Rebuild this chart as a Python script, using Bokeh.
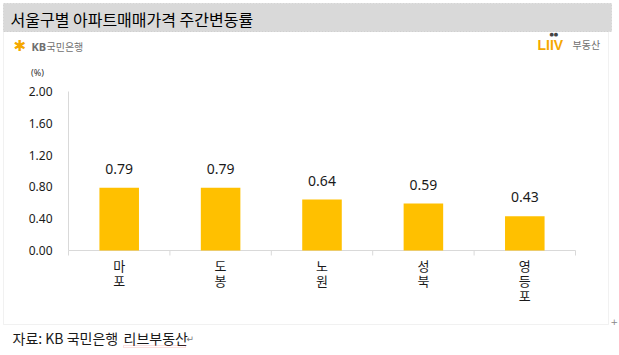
import math
from bokeh.plotting import figure
from bokeh.models import ColumnDataSource, Label, BoxAnnotation, Range1d
from bokeh.embed import file_html
from bokeh.resources import INLINE
from bokeh.core.properties import value

# ---------------- data ----------------
chart_title = "서울구별 아파트매매가격 주간변동률"
districts = ["마포", "도봉", "노원", "성북", "영등포"]
changes = [0.79, 0.79, 0.64, 0.59, 0.43]
y_ticks = [0.0, 0.4, 0.8, 1.2, 1.6, 2.0]
y_max = 2.0
unit_label = "(%)"
source_main = "자료: KB 국민은행"
source_second = "리브부동산"
kb_brand = "국민은행"
liiv_brand = "부동산"

# ---------------- layout (canvas px) ----------------
W, H = 619, 355
FL, FR, FT, FB = 68, 575, 91, 250   # plot area edges
KR = "Noto Sans CJK KR"
NUM = "Noto Sans"
AX = "#D9D9D9"

n = len(districts)
x_lo, x_hi = 0.5, n + 0.5
kx = (FR - FL) / (x_hi - x_lo)
ky = (FB - FT) / y_max
x_range = Range1d(x_lo - FL / kx, x_hi + (W - FR) / kx)
y_range = Range1d(-(H - FB) / ky, y_max + FT / ky)

pos = list(range(1, n + 1))
bars = ColumnDataSource(dict(x=pos, top=changes,
                             lab=[f"{v:.2f}" for v in changes],
                             cat=["\n".join(list(d)) for d in districts],
                             zero=[0] * n))
yt = ColumnDataSource(dict(y=y_ticks, x=[x_lo] * len(y_ticks),
                           lab=[f"{v:.2f}" for v in y_ticks]))
edges = [x_lo + i for i in range(n + 1)]

p = figure(width=W, height=H, output_backend="svg", toolbar_location=None,
           x_range=x_range, y_range=y_range,
           x_axis_location=None, y_axis_location=None,
           min_border=0)
p.outline_line_color = None
p.grid.visible = False
p.background_fill_color = "white"
p.border_fill_color = "white"

# title bar and outer frame
p.add_layout(BoxAnnotation(left=3, right=608, top=31, bottom=324,
                           left_units="canvas", right_units="canvas",
                           top_units="canvas", bottom_units="canvas",
                           fill_alpha=0, line_color="#D0D0D0", line_width=1,
                           level="underlay"))
p.add_layout(BoxAnnotation(left=3, right=611, top=3, bottom=31,
                           left_units="canvas", right_units="canvas",
                           top_units="canvas", bottom_units="canvas",
                           fill_color="#D9D9D9", fill_alpha=1,
                           line_color="#A0A0A0", line_dash="2 1", line_width=1,
                           level="underlay"))

# axes drawn through the data scales
p.segment(x0=[x_lo], y0=[0], x1=[x_hi], y1=[0], line_color=AX, line_width=1)
p.segment(x0=[x_lo], y0=[0], x1=[x_lo], y1=[y_max], line_color=AX, line_width=1)
p.ray(x=edges, y=[0] * len(edges), length=5, length_units="screen",
      angle=-math.pi / 2, line_color=AX, line_width=1)
p.text(x="x", y="y", text="lab", source=yt, x_offset=-16,
       text_align="right", text_baseline="middle",
       text_font=value(NUM), text_font_size="12px", text_color="#1a1a1a")
p.text(x="x", y="zero", text="cat", source=bars, y_offset=5,
       text_align="center", text_baseline="top", text_line_height=0.8,
       text_font=value(KR), text_font_size="13px", text_color="#1a1a1a")

# bars and value labels
p.vbar(x="x", top="top", width=0.39, bottom=0, source=bars,
       fill_color="#FFC000", line_color=None)
p.text(x="x", y="top", text="lab", source=bars, y_offset=-19,
       text_align="center", text_baseline="alphabetic",
       text_font=value(NUM), text_font_size="14px", text_color="#1a1a1a")


def lab(cx, cy, text, size, color="#1a1a1a", font=KR, align="left",
        style="normal"):
    p.add_layout(Label(x=cx, y=cy, x_units="canvas", y_units="canvas",
                       text=text, text_font=font, text_font_size=size,
                       text_color=color, text_align=align,
                       text_baseline="middle", text_font_style=style))


lab(10, 18, chart_title, "16px", "#000000")
lab(37, 72, unit_label, "9px", "#333333", NUM, "center")
lab(13, 45, "✱", "15px", "#F5A800", "DejaVu Sans")
lab(31, 46, "KB", "11px", "#6f6f6f", NUM, "left", "bold")
lab(46, 46, kb_brand, "10px", "#6f6f6f")
lab(537, 44, "LIIV", "14px", "#F5A800", "Liberation Sans", "left", "bold")
lab(549, 33, "●●", "5px", "#444444", "DejaVu Sans")
lab(572, 44, liiv_brand, "10px", "#6f6f6f")
lab(12, 337, source_main, "14px", "#1a1a1a")
lab(123, 337, source_second, "14px", "#1a1a1a")
lab(186, 338, "↵", "9px", "#777777", "DejaVu Sans")
lab(610, 321, "+", "9px", "#888888", "DejaVu Sans")

# spell-check squiggle under the second source
p.add_layout(BoxAnnotation(left=123, right=185, top=345, bottom=347,
                           left_units="canvas", right_units="canvas",
                           top_units="canvas", bottom_units="canvas",
                           fill_alpha=0, line_color="#E03030", line_dash="1 1",
                           line_width=1))

open("out.html", "w").write(file_html(p, INLINE))
